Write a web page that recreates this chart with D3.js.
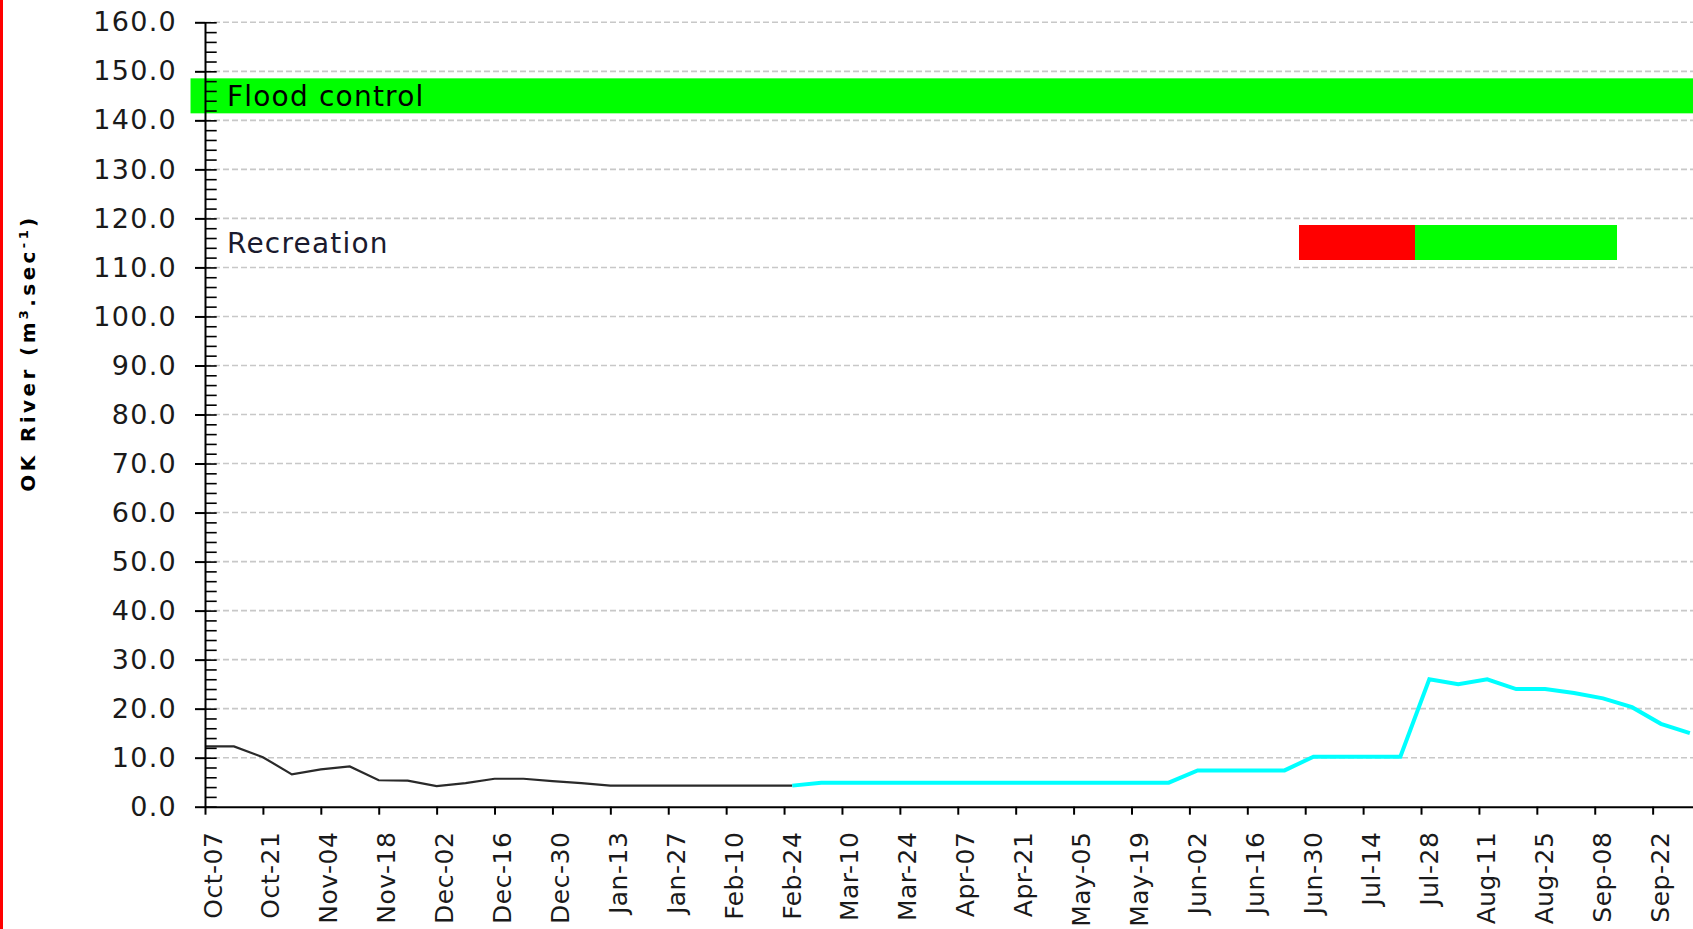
<!DOCTYPE html>
<html>
<head>
<meta charset="utf-8">
<script src="https://cdn.jsdelivr.net/npm/d3@7/dist/d3.min.js"></script>
<style>
  body { margin: 0; background: #fff; }
  svg { display: block; }
</style>
</head>
<body>
<div id="chart"></div>
<script>

// observed flow (weekly, plus the last observation)
var observedDates = ["2018-10-07", "2018-10-14", "2018-10-21", "2018-10-28", "2018-11-04", "2018-11-11",
  "2018-11-18", "2018-11-25", "2018-12-02", "2018-12-09", "2018-12-16", "2018-12-23", "2018-12-30",
  "2019-01-06", "2019-01-13", "2019-01-20", "2019-01-27", "2019-02-03", "2019-02-10", "2019-02-17",
  "2019-02-24", "2019-02-26"];
var observedFlow = [12.3, 12.3, 10.1, 6.6, 7.6, 8.2, 5.4, 5.3, 4.2, 4.8, 5.7, 5.7, 5.2,
  4.8, 4.3, 4.3, 4.3, 4.3, 4.3, 4.3, 4.3, 4.3];

// forecast flow (weekly)
var forecastDates = ["2019-02-26", "2019-03-05", "2019-03-12", "2019-03-19", "2019-03-26", "2019-04-02",
  "2019-04-09", "2019-04-16", "2019-04-23", "2019-04-30", "2019-05-07", "2019-05-14", "2019-05-21",
  "2019-05-28", "2019-06-04", "2019-06-11", "2019-06-18", "2019-06-25", "2019-07-02", "2019-07-09",
  "2019-07-16", "2019-07-23", "2019-07-30", "2019-08-06", "2019-08-13", "2019-08-20", "2019-08-27",
  "2019-09-03", "2019-09-10", "2019-09-17", "2019-09-24", "2019-10-01"];
var forecastFlow = [4.3, 4.9, 4.9, 4.9, 4.9, 4.9, 4.9, 4.9, 4.9, 4.9, 4.9, 4.9, 4.9,
  4.9, 7.4, 7.4, 7.4, 7.4, 10.2, 10.2, 10.2, 10.2, 26.0, 25.0, 26.0, 24.0, 24.0,
  23.2, 22.1, 20.3, 16.9, 15.0];

// target bands
var bandNames = ["Flood control", "Recreation"];
var bandLevels = [145, 115];
var floodPeriod = ["2018-10-03T12:00:00Z", "2019-10-04"];
var recreationWeeks = ["2019-07-02", "2019-07-09", "2019-07-16", "2019-07-23", "2019-07-30", "2019-08-06",
  "2019-08-13", "2019-08-20", "2019-08-27", "2019-09-03", "2019-09-10"];
var recreationStatus = ["fail", "fail", "fail", "fail", "pass", "pass", "pass", "pass", "pass", "pass", "pass"];

// axes
var xTickDates = ["2018-10-07", "2018-10-21", "2018-11-04", "2018-11-18", "2018-12-02", "2018-12-16",
  "2018-12-30", "2019-01-13", "2019-01-27", "2019-02-10", "2019-02-24", "2019-03-10", "2019-03-24",
  "2019-04-07", "2019-04-21", "2019-05-05", "2019-05-19", "2019-06-02", "2019-06-16", "2019-06-30",
  "2019-07-14", "2019-07-28", "2019-08-11", "2019-08-25", "2019-09-08", "2019-09-22"];
var xDomain = ["2018-10-07", "2019-10-02"];
var yMajorTicks = d3.range(0, 161, 10);
var yMinorTicks = d3.range(0, 161, 2);

var width = 1693;
var height = 929;
var plotLeft = 205, plotRight = 1694, plotTop = 22.3, plotBottom = 806.7;
var font = '"DejaVu Sans", Verdana, sans-serif';

var parse = function(s) { return new Date(s.length > 10 ? s : s + "T00:00:00Z"); };

var x = d3.scaleUtc()
  .domain(xDomain.map(parse))
  .range([plotLeft, plotRight]);

var y = d3.scaleLinear()
  .domain([0, 160])
  .range([plotBottom, plotTop]);

var svg = d3.select("#chart")
  .append("svg")
  .attr("width", width)
  .attr("height", height);

svg.append("defs").append("clipPath")
  .attr("id", "plot")
  .append("rect")
  .attr("x", 0).attr("y", 0)
  .attr("width", width).attr("height", plotBottom);

// red frame edge on the left
svg.append("rect")
  .attr("x", 0).attr("y", 0)
  .attr("width", 3).attr("height", height)
  .attr("fill", "#ff0000");

// grid
svg.append("g")
  .selectAll("line")
  .data(yMajorTicks.slice(1))
  .enter()
  .append("line")
  .attr("x1", plotLeft).attr("x2", width)
  .attr("y1", function(d) { return y(d); })
  .attr("y2", function(d) { return y(d); })
  .attr("stroke", "#c8c8c8")
  .attr("stroke-width", 1.6)
  .attr("stroke-dasharray", "6,3");

// bands
var bandH = 35;
var plot = svg.append("g").attr("clip-path", "url(#plot)");

plot.append("rect")
  .attr("x", x(parse(floodPeriod[0])))
  .attr("width", x(parse(floodPeriod[1])) - x(parse(floodPeriod[0])))
  .attr("y", y(bandLevels[0]) - bandH / 2)
  .attr("height", bandH)
  .attr("fill", "#00ff00");

var halfWeek = 3.5 * 864e5;
plot.selectAll(".rec")
  .data(recreationWeeks.map(function(d, i) { return { date: parse(d), status: recreationStatus[i] }; }))
  .enter()
  .append("rect")
  .attr("class", "rec")
  .attr("x", function(d) { return x(new Date(+d.date - halfWeek)); })
  .attr("width", function(d) { return x(new Date(+d.date + halfWeek)) - x(new Date(+d.date - halfWeek)); })
  .attr("y", y(bandLevels[1]) - bandH / 2)
  .attr("height", bandH)
  .attr("shape-rendering", "crispEdges")
  .attr("fill", function(d) { return d.status === "pass" ? "#00ff00" : "#ff0000"; });

svg.append("g")
  .selectAll("text")
  .data(bandNames)
  .enter()
  .append("text")
  .attr("x", x(parse(xDomain[0])) + 22)
  .attr("y", function(d, i) { return y(bandLevels[i]); })
  .attr("dy", "0.36em")
  .attr("font-family", font)
  .attr("font-size", 28)
  .attr("letter-spacing", 1.2)
  .attr("fill", function(d, i) { return i === 0 ? "#000" : "#1a1a2e"; })
  .text(function(d) { return d; });

// flow lines
var line = d3.line()
  .x(function(d) { return x(d.date); })
  .y(function(d) { return y(d.value); });

var observed = observedDates.map(function(d, i) { return { date: parse(d), value: observedFlow[i] }; });
var forecast = forecastDates.map(function(d, i) { return { date: parse(d), value: forecastFlow[i] }; });

plot.append("path")
  .datum(observed)
  .attr("d", line)
  .attr("fill", "none")
  .attr("stroke", "#2a2a2a")
  .attr("stroke-width", 2.2);

plot.append("path")
  .datum(forecast)
  .attr("d", line)
  .attr("fill", "none")
  .attr("stroke", "#00ffff")
  .attr("stroke-width", 4);

// y axis
var yMinor = svg.append("g")
  .attr("transform", "translate(" + plotLeft + ",0)")
  .call(d3.axisRight(y).tickValues(yMinorTicks).tickSize(11.7).tickFormat(""));
yMinor.select(".domain").remove();
yMinor.selectAll("line").attr("stroke", "#000").attr("stroke-width", 1.6);

var yAxis = svg.append("g")
  .attr("transform", "translate(" + plotLeft + ",0)")
  .call(d3.axisLeft(y).tickValues(yMajorTicks).tickSizeInner(10).tickSizeOuter(0)
    .tickPadding(18).tickFormat(d3.format(".1f")));
yAxis.select(".domain").attr("stroke", "#000").attr("stroke-width", 2);
yAxis.selectAll("line").attr("stroke", "#000").attr("stroke-width", 2);
yAxis.selectAll("text")
  .attr("font-family", font)
  .attr("font-size", 27)
  .attr("letter-spacing", 1.3)
  .attr("fill", "#1a1a1a");

// x axis
var xAxis = svg.append("g")
  .attr("transform", "translate(0," + plotBottom + ")")
  .call(d3.axisBottom(x).tickValues(xTickDates.map(parse)).tickSizeInner(8).tickSizeOuter(0)
    .tickFormat(d3.utcFormat("%b-%d")));
xAxis.select(".domain").attr("stroke", "#000").attr("stroke-width", 2);
xAxis.selectAll("line").attr("stroke", "#000").attr("stroke-width", 2);
xAxis.selectAll("text")
  .attr("font-family", font)
  .attr("font-size", 25)
  .attr("letter-spacing", 0.5)
  .attr("fill", "#1a1a1a")
  .attr("transform", "rotate(-90)")
  .attr("x", -25)
  .attr("y", 16)
  .attr("dy", null)
  .style("text-anchor", "end");

// y title
var title = svg.append("text")
  .attr("transform", "translate(35,353) rotate(-90)")
  .attr("text-anchor", "middle")
  .attr("font-family", font)
  .attr("font-weight", "bold")
  .attr("font-size", 20)
  .attr("letter-spacing", 3.4)
  .attr("fill", "#000");
title.append("tspan").text("OK River (m");
title.append("tspan").attr("font-size", 13).attr("dy", -7).text("3");
title.append("tspan").attr("dy", 7).text(".sec");
title.append("tspan").attr("font-size", 13).attr("dy", -7).text("-1");
title.append("tspan").attr("dy", 7).text(")");

</script>
</body>
</html>
